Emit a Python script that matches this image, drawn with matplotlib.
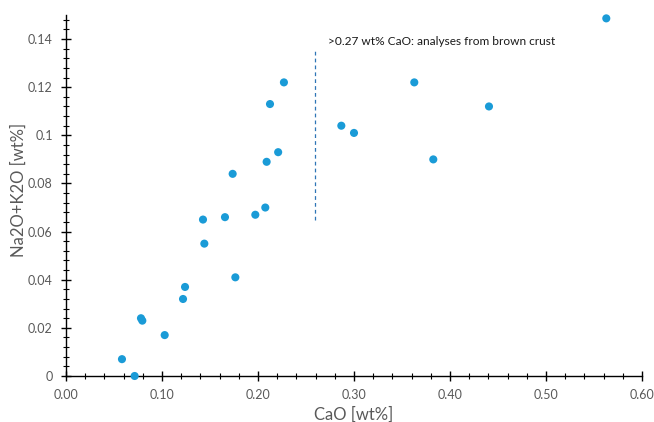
import matplotlib
matplotlib.use("Agg")
import matplotlib.pyplot as plt
from matplotlib.ticker import MultipleLocator, FormatStrFormatter, FuncFormatter

cao = [0.227, 0.2125, 0.221, 0.209, 0.1736, 0.2076, 0.1972, 0.1656, 0.1427, 0.1441,
       0.1764, 0.124, 0.1219, 0.0781, 0.0795, 0.1028, 0.0583, 0.0715,
       0.5628, 0.3628, 0.4406, 0.2868, 0.300, 0.3826]
alk = [0.122, 0.113, 0.093, 0.089, 0.084, 0.070, 0.067, 0.066, 0.065, 0.055,
       0.041, 0.037, 0.032, 0.024, 0.023, 0.017, 0.007, 0.000,
       0.1486, 0.122, 0.112, 0.104, 0.101, 0.090]
divider_x = 0.259
divider_y = [0.065, 0.1355]
note = ">0.27 wt% CaO: analyses from brown crust"

plt.rcParams['font.family'] = ['Lato', 'DejaVu Sans']
fig = plt.figure(figsize=(6.54, 4.22), dpi=100)
ax = fig.add_axes([66/654, 1-376/422, (642-66)/654, (376-15)/422])

ax.scatter(cao, alk, s=34, color='#1a9bd7', edgecolors='none', zorder=3, clip_on=False)
ax.plot([divider_x, divider_x], divider_y, ls=(0, (3, 2.5)), color='#2e75b6', lw=0.9)
ax.text(0.273, 0.1388, note, fontsize=8.6, color='#1a1a1a', va='center', ha='left')

ax.set_xlim(0, 0.6)
ax.set_ylim(0, 0.15)
ax.spines['top'].set_visible(False)
ax.spines['right'].set_visible(False)
for s in ['left', 'bottom']:
    ax.spines[s].set_color('black')
    ax.spines[s].set_linewidth(1)

ax.xaxis.set_major_locator(MultipleLocator(0.1))
ax.xaxis.set_minor_locator(MultipleLocator(0.02))
ax.yaxis.set_major_locator(MultipleLocator(0.02))
ax.yaxis.set_minor_locator(MultipleLocator(0.004))
ax.xaxis.set_major_formatter(FormatStrFormatter('%.2f'))

def yfmt(v, pos):
    if v > 0.141:
        return ''
    if abs(v) < 1e-9:
        return '0'
    return f"{v:.2f}".rstrip('0')
ax.yaxis.set_major_formatter(FuncFormatter(yfmt))

ax.tick_params(which='major', direction='inout', length=7, width=1, color='black',
               labelsize=9, labelcolor='#595959', pad=6)
ax.tick_params(which='minor', direction='inout', length=4, width=0.8, color='black')

ax.set_xlabel('CaO [wt%]', fontsize=12, color='#595959', labelpad=4)
ax.set_ylabel('Na2O+K2O [wt%]', fontsize=12, color='#595959')
ax.yaxis.set_label_coords((27 - 66) / 576, (376 - 190) / 361)

fig.savefig('out.png', dpi=100)
